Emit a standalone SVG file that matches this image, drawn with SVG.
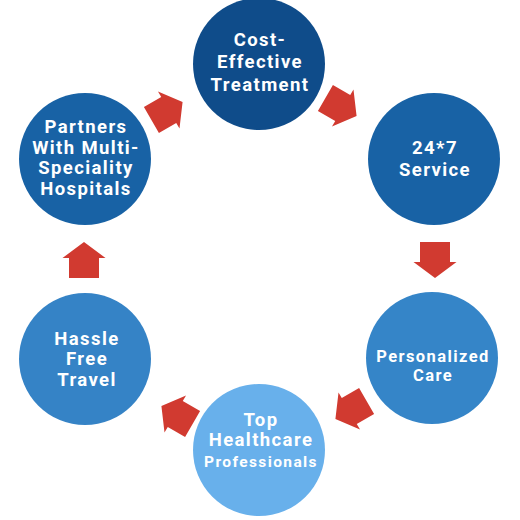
<svg xmlns="http://www.w3.org/2000/svg" width="520" height="520" viewBox="0 0 520 520">
<style>
text{font-family:Roboto,"Liberation Sans",Arial,sans-serif;font-weight:bold;fill:#fff;text-anchor:middle;letter-spacing:1.4px}
.big{font-size:18.5px}
.mid{font-size:16.5px}
.sm{font-size:15.5px}
.arrow{fill:#d13a30}
</style>
<defs>
<path id="arr" d="M-18,-15 H2 V-21.5 L18,0 L2,21.5 V15 H-18 Z"/>
</defs>
<rect width="520" height="520" fill="#fff"/>
<g id="connectors">
<use href="#arr" class="arrow" transform="translate(167,111) rotate(-30)"/>
<use href="#arr" class="arrow" transform="translate(341,107) rotate(30)"/>
<use href="#arr" class="arrow" transform="translate(435,260) rotate(90)"/>
<use href="#arr" class="arrow" transform="translate(351,410) rotate(150)"/>
<use href="#arr" class="arrow" transform="translate(177,415) rotate(210)"/>
<use href="#arr" class="arrow" transform="translate(84,260) rotate(-90)"/>
</g>
<g id="cost">
<circle cx="259" cy="64" r="66" fill="#0f4c8a"/>
<text class="big" x="260" y="46">Cost-</text>
<text class="big" x="260" y="68">Effective</text>
<text class="big" x="260" y="91">Treatment</text>
</g>
<g id="service">
<circle cx="434" cy="159" r="66" fill="#1862a5"/>
<text class="big" x="435" y="154">24*7</text>
<text class="big" x="435" y="176">Service</text>
</g>
<g id="personalized">
<circle cx="432" cy="358" r="66" fill="#3585c8"/>
<text class="mid" x="433" y="362">Personalized</text>
<text class="mid" x="433" y="381">Care</text>
</g>
<g id="top">
<circle cx="259" cy="450" r="66" fill="#68b0eb"/>
<text class="big" x="261" y="426">Top</text>
<text class="big" x="261" y="446">Healthcare</text>
<text class="sm" x="261" y="467">Professionals</text>
</g>
<g id="hassle">
<circle cx="85" cy="359" r="66" fill="#3583c6"/>
<text class="big" x="87" y="345">Hassle</text>
<text class="big" x="87" y="365">Free</text>
<text class="big" x="87" y="386">Travel</text>
</g>
<g id="partners">
<circle cx="85" cy="159" r="66" fill="#1862a5"/>
<text class="big" x="86" y="133">Partners</text>
<text class="big" x="86" y="154">With Multi-</text>
<text class="big" x="86" y="174">Speciality</text>
<text class="big" x="86" y="195">Hospitals</text>
</g>
</svg>
